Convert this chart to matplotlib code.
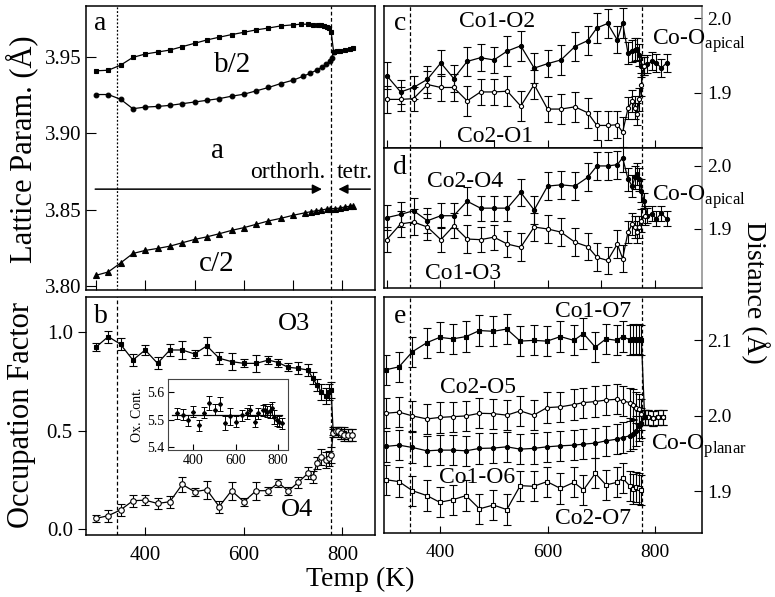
import matplotlib
matplotlib.use('Agg')
import matplotlib.pyplot as plt

plt.rcParams['font.family'] = ['Liberation Serif', 'DejaVu Serif']
plt.rcParams['mathtext.fontset'] = 'custom'
plt.rcParams['mathtext.rm'] = 'Liberation Serif'
plt.rcParams['axes.linewidth'] = 1.1

# ---------------- panel a : lattice parameters ----------------
temp_b2 = [300, 325, 350, 375, 400, 425, 450, 475, 500, 525, 550, 575, 600, 625, 650, 675, 700, 715, 730, 740,
           750, 757, 763, 768, 773, 777, 782, 788, 795, 805, 815, 822]
param_b2 = [3.9408, 3.9412, 3.9445, 3.9496, 3.9518, 3.9531, 3.9544, 3.9566, 3.9588, 3.9610, 3.9628, 3.9645,
            3.9660, 3.9676, 3.9688, 3.9702, 3.9709, 3.9713, 3.9713, 3.9711, 3.9708, 3.9705, 3.9701, 3.9695,
            3.9685, 3.9664, 3.9533, 3.9535, 3.9540, 3.9545, 3.9550, 3.9555]
temp_a = [300, 325, 350, 375, 400, 425, 450, 475, 500, 525, 550, 575, 600, 625, 650, 675, 700, 720, 735, 748,
          758, 767, 774, 779, 782]
param_a = [3.9253, 3.9253, 3.9222, 3.916, 3.9171, 3.9175, 3.9182, 3.9193, 3.9204, 3.9215, 3.9226, 3.9242,
           3.9255, 3.9277, 3.9299, 3.9325, 3.9347, 3.9372, 3.9393, 3.9413, 3.9432, 3.9452, 3.9472, 3.9492,
           3.9533]
temp_c2 = [300, 325, 350, 375, 400, 425, 450, 475, 500, 525, 550, 575, 600, 625, 650, 675, 700, 725, 737, 747,
           757, 768, 775, 785, 795, 805, 815, 822]
param_c2 = [3.807, 3.8092, 3.8151, 3.8213, 3.8233, 3.8246, 3.8261, 3.8283, 3.8305, 3.8322, 3.8342, 3.8364,
            3.8382, 3.8404, 3.8426, 3.8443, 3.8463, 3.848, 3.8487, 3.8493, 3.8497, 3.8504, 3.8507, 3.8507,
            3.851, 3.8518, 3.8522, 3.8526]

# ---------------- panel b : occupation factors ----------------
temp_occ = [300, 325, 350, 375, 400, 425, 450, 475, 500, 525, 550, 575, 600, 625, 650, 670, 690, 710, 730, 740,
            748, 757, 766, 773, 777, 781, 786, 791, 797, 803, 811, 820]
occ_o3 = [0.924, 0.978, 0.939, 0.859, 0.910, 0.842, 0.910, 0.910, 0.890, 0.931, 0.868, 0.851, 0.842, 0.842,
          0.859, 0.846, 0.822, 0.817, 0.808, 0.766, 0.732, 0.698, 0.676, 0.698, 0.707, 0.50, 0.50, 0.49, 0.49,
          0.49, 0.48, 0.48]
err_o3 = [0.02, 0.03, 0.03, 0.03, 0.025, 0.03, 0.03, 0.045, 0.02, 0.045, 0.03, 0.045, 0.02, 0.045, 0.02, 0.02,
          0.02, 0.03, 0.03, 0.03, 0.03, 0.04, 0.04, 0.04, 0.04, 0.02, 0.02, 0.02, 0.03, 0.03, 0.03, 0.03]
occ_o4 = [0.054, 0.068, 0.097, 0.144, 0.147, 0.130, 0.139, 0.227, 0.190, 0.200, 0.114, 0.195, 0.139, 0.195,
          0.195, 0.236, 0.193, 0.237, 0.283, 0.266, 0.334, 0.368, 0.351, 0.359, 0.376, 0.49, 0.50, 0.50, 0.49,
          0.48, 0.48, 0.48]
err_o4 = [0.02, 0.03, 0.03, 0.03, 0.025, 0.03, 0.03, 0.04, 0.02, 0.045, 0.03, 0.045, 0.02, 0.045, 0.02, 0.02,
          0.02, 0.03, 0.03, 0.03, 0.03, 0.04, 0.04, 0.04, 0.04, 0.02, 0.02, 0.02, 0.03, 0.03, 0.03, 0.03]

# inset : oxygen content
temp_ox = [321, 349, 373, 400, 428, 450, 476, 500, 526, 550, 574, 602, 629, 653, 669, 692, 708, 729, 740, 751,
           763, 771, 782, 795, 808, 819]
ox_cont = [5.522, 5.518, 5.498, 5.528, 5.480, 5.524, 5.560, 5.536, 5.557, 5.488, 5.512, 5.492, 5.516, 5.522,
           5.534, 5.492, 5.522, 5.534, 5.536, 5.528, 5.530, 5.540, 5.510, 5.498, 5.492, 5.486]
err_ox = [0.02, 0.02, 0.02, 0.02, 0.02, 0.02, 0.025, 0.02, 0.025, 0.025, 0.03, 0.02, 0.02, 0.02, 0.02, 0.02,
          0.02, 0.02, 0.02, 0.02, 0.025, 0.025, 0.025, 0.02, 0.02, 0.02]
ox_mean = 5.518

# ---------------- panel c, d : apical distances ----------------
temp_ap = [300, 326, 350, 376, 401, 425, 450, 475, 500, 525, 550, 575, 600, 625, 651, 675, 692, 712, 730, 740,
           750, 758, 763, 767, 771, 775]
temp_ap_tetr = [780, 786, 794, 803, 812, 822]
co1_o2 = [1.923, 1.901, 1.907, 1.918, 1.940, 1.919, 1.942, 1.947, 1.944, 1.956, 1.963, 1.933, 1.939, 1.944,
          1.962, 1.970, 1.987, 1.993, 1.971, 1.994, 1.953, 1.956, 1.958, 1.959, 1.951, 1.936]
co1_o2_tetr = [1.936, 1.938, 1.942, 1.940, 1.933, 1.940]
co2_o1 = [1.891, 1.891, 1.892, 1.911, 1.907, 1.907, 1.889, 1.901, 1.901, 1.902, 1.882, 1.911, 1.878, 1.878,
          1.881, 1.873, 1.856, 1.856, 1.857, 1.847, 1.879, 1.889, 1.880, 1.871, 1.891, 1.911]
co2_o4 = [1.918, 1.923, 1.929, 1.913, 1.921, 1.921, 1.944, 1.933, 1.933, 1.933, 1.958, 1.930, 1.968, 1.970,
          1.968, 1.982, 2.000, 2.000, 2.002, 2.013, 1.979, 1.968, 1.982, 1.987, 1.979, 1.961]
co2_o4_tetr = [1.945, 1.921, 1.924, 1.916, 1.925, 1.916]
co1_o3 = [1.883, 1.908, 1.911, 1.903, 1.883, 1.905, 1.884, 1.883, 1.887, 1.876, 1.871, 1.903, 1.900, 1.895,
          1.879, 1.872, 1.855, 1.850, 1.876, 1.853, 1.895, 1.908, 1.903, 1.895, 1.903, 1.913]
err_c = [0.018, 0.016, 0.016, 0.018, 0.018, 0.018, 0.02, 0.018, 0.018, 0.02, 0.02, 0.02, 0.018, 0.02, 0.02,
         0.02, 0.02, 0.02, 0.018, 0.02, 0.015, 0.015, 0.015, 0.015, 0.015, 0.015]
err_c_tetr = [0.012, 0.012, 0.012, 0.012, 0.012, 0.012]
err_d = [0.02, 0.02, 0.02, 0.02, 0.02, 0.02, 0.022, 0.02, 0.02, 0.02, 0.022, 0.022, 0.022, 0.022, 0.022, 0.022,
         0.022, 0.022, 0.022, 0.022, 0.018, 0.018, 0.018, 0.018, 0.018, 0.018]

# ---------------- panel e : planar distances ----------------
temp_pl = [298, 323, 348, 375, 399, 423, 448, 473, 499, 524, 549, 574, 599, 624, 649, 667, 689, 709, 729, 740,
           753, 759, 765, 770, 775]
temp_pl_tetr = [781, 787, 797, 806, 816]
co1_o7 = [2.061, 2.065, 2.085, 2.097, 2.104, 2.102, 2.105, 2.113, 2.112, 2.115, 2.099, 2.100, 2.099, 2.105,
          2.100, 2.109, 2.091, 2.102, 2.100, 2.105, 2.101, 2.102, 2.101, 2.102, 2.101]
co2_o5 = [2.0035, 2.005, 2.000, 1.996, 1.998, 1.999, 2.000, 2.0035, 2.003, 2.001, 2.0066, 2.001, 2.011, 2.012,
          2.015, 2.0176, 2.019, 2.021, 2.022, 2.020, 2.0176, 2.015, 2.011, 2.0088, 2.002]
co1_o6 = [1.9596, 1.9613, 1.9582, 1.9538, 1.9547, 1.9547, 1.9538, 1.957, 1.9574, 1.9591, 1.956, 1.957, 1.9591,
          1.9604, 1.9613, 1.9626, 1.964, 1.967, 1.9692, 1.9714, 1.9736, 1.9758, 1.980, 1.9868, 1.991]
co2_o7 = [1.9156, 1.913, 1.901, 1.8945, 1.8857, 1.889, 1.8945, 1.877, 1.882, 1.876, 1.9077, 1.9068, 1.913, 1.904,
          1.912, 1.902, 1.924, 1.9086, 1.912, 1.9174, 1.9077, 1.903, 1.9055, 1.904, 1.902]
planar_tetr = [1.998, 1.998, 1.997, 1.998, 1.998]
err_e = [0.02, 0.02, 0.02, 0.02, 0.02, 0.02, 0.02, 0.02, 0.02, 0.02, 0.02, 0.02, 0.02, 0.02, 0.02, 0.02, 0.02,
         0.02, 0.02, 0.02, 0.02, 0.02, 0.02, 0.02, 0.02]
err_e_tetr = [0.01, 0.01, 0.01, 0.01, 0.01]

T_LOW = 343
T_HIGH = 776


def serie(ax, x, y, err, marker, lleno=True, ms=3.2):
    cara = 'k' if lleno else 'white'
    if err is None:
        ax.plot(x, y, '-' + marker, color='k', mfc=cara, mec='k', ms=ms, lw=0.9, mew=0.8)
    else:
        ax.errorbar(x, y, yerr=err, fmt='-' + marker, color='k', mfc=cara, mec='k', ms=ms, lw=0.9, mew=0.8,
                    elinewidth=0.8, capsize=3, capthick=0.8)


def lineas(ax, estilo_izq=(0, (3, 2))):
    ax.axvline(T_LOW, ls=estilo_izq, color='k', lw=0.9)
    ax.axvline(T_HIGH, ls=(0, (3, 2)), color='k', lw=0.9)


fig = plt.figure(figsize=(7.75, 5.97), dpi=100)
ax_a = fig.add_axes([0.1110, 0.5142, 0.3729, 0.4757])
ax_b = fig.add_axes([0.1110, 0.1039, 0.3729, 0.3982])
ax_c = fig.add_axes([0.4955, 0.7516, 0.4103, 0.2384])
ax_d = fig.add_axes([0.4955, 0.5176, 0.4103, 0.2340])
ax_e = fig.add_axes([0.4955, 0.1072, 0.4103, 0.3948])

# panel a
serie(ax_a, temp_b2, param_b2, None, 's', ms=3.4)
serie(ax_a, temp_a, param_a, None, 'o', ms=3.4)
serie(ax_a, temp_c2, param_c2, None, '^', ms=3.7)
lineas(ax_a, (0, (1.5, 1.5)))
ax_a.annotate('', xy=(764, 3.8634), xytext=(293, 3.8634),
              arrowprops=dict(arrowstyle='-|>', color='k', lw=1.1, mutation_scale=14))
ax_a.annotate('', xy=(786, 3.8634), xytext=(862, 3.8634),
              arrowprops=dict(arrowstyle='-|>', color='k', lw=1.1, mutation_scale=14))
ax_a.text(0.05, 0.94, 'a', transform=ax_a.transAxes, fontsize=20, ha='center', va='center')
ax_a.text(578, 3.9445, 'b/2', fontsize=21, ha='center', va='center')
ax_a.text(547, 3.8886, 'a', fontsize=21, ha='center', va='center')
ax_a.text(545, 3.8143, 'c/2', fontsize=21, ha='center', va='center')
ax_a.text(765, 3.874, 'orthorh.', fontsize=17, ha='right', va='center')
ax_a.text(862, 3.874, 'tetr.', fontsize=17, ha='right', va='center')
ax_a.set_xlim(280, 866)
ax_a.set_ylim(3.7974, 3.9832)
ax_a.set_yticks([3.80, 3.85, 3.90, 3.95])
ax_a.set_yticklabels(['3.80', '3.85', '3.90', '3.95'])
ax_a.set_xticks([300, 400, 500, 600, 700, 800])
ax_a.tick_params(axis='x', direction='in', length=7, labelbottom=False)
ax_a.tick_params(axis='y', direction='in', length=7, labelsize=15)

# panel b
serie(ax_b, temp_occ, occ_o3, err_o3, 's', ms=3.2)
serie(ax_b, temp_occ, occ_o4, err_o4, 'o', lleno=False, ms=4)
lineas(ax_b)
ax_b.text(0.05, 0.92, 'b', transform=ax_b.transAxes, fontsize=20, ha='center', va='center')
ax_b.text(702, 1.044, 'O3', fontsize=19, ha='center', va='center')
ax_b.text(708, 0.0965, 'O4', fontsize=19, ha='center', va='center')
ax_b.set_xlim(280, 866)
ax_b.set_ylim(-0.03, 1.178)
ax_b.set_yticks([0.0, 0.5, 1.0])
ax_b.set_xticks([400, 600, 800])
ax_b.tick_params(axis='x', direction='in', length=6, labelsize=15, pad=8)
ax_b.tick_params(axis='y', direction='out', length=6, labelsize=15)

# inset
ax_in = fig.add_axes([0.2172, 0.2462, 0.1548, 0.1184])
ax_in.errorbar(temp_ox, ox_cont, yerr=err_ox, fmt='D', color='k', ms=2, elinewidth=0.7, capsize=2, capthick=0.7)
ax_in.plot([300, 820], [ox_mean, ox_mean], color='k', lw=0.9)
ax_in.set_xlim(281, 850)
ax_in.set_ylim(5.39, 5.645)
ax_in.set_yticks([5.4, 5.5, 5.6])
ax_in.set_xticks([400, 600, 800])
ax_in.tick_params(direction='in', length=4, labelsize=10, pad=3)
ax_in.set_ylabel('Ox. Cont.', fontsize=10, labelpad=2)
for s in ax_in.spines.values():
    s.set_linewidth(0.8)
    s.set_color('#444444')

# panel c
serie(ax_c, temp_ap + temp_ap_tetr, co1_o2 + co1_o2_tetr, err_c + err_c_tetr, 'o', ms=3)
serie(ax_c, temp_ap + [temp_ap_tetr[0]], co2_o1 + [co1_o2_tetr[0]], err_c + [err_c_tetr[0]], 'o', lleno=False, ms=3)
lineas(ax_c)
ax_c.text(0.05, 0.88, 'c', transform=ax_c.transAxes, fontsize=20, ha='center', va='center')
ax_c.text(505, 1.9954, 'Co1-O2', fontsize=17, ha='center', va='center')
ax_c.text(502, 1.841, 'Co2-O1', fontsize=17, ha='center', va='center')
ax_c.text(794, 1.9686, 'Co-O$_{\\mathrm{apical}}$', fontsize=17, ha='left', va='center')
ax_c.set_xlim(295, 888)
ax_c.set_ylim(1.8253, 2.0165)
ax_c.set_yticks([1.9, 2.0])

# panel d
serie(ax_d, temp_ap + temp_ap_tetr, co2_o4 + co2_o4_tetr, err_d + err_c_tetr, 'o', ms=3)
serie(ax_d, temp_ap + [781], co1_o3 + [1.921], err_d + [0.015], 'o', lleno=False, ms=3)
lineas(ax_d)
ax_d.text(0.05, 0.86, 'd', transform=ax_d.transAxes, fontsize=20, ha='center', va='center')
ax_d.text(446, 1.975, 'Co2-O4', fontsize=17, ha='center', va='center')
ax_d.text(443, 1.8297, 'Co1-O3', fontsize=17, ha='center', va='center')
ax_d.text(794, 1.951, 'Co-O$_{\\mathrm{apical}}$', fontsize=17, ha='left', va='center')
ax_d.set_xlim(295, 888)
ax_d.set_ylim(1.8063, 2.028)
ax_d.set_yticks([1.9, 2.0])

for ax in (ax_c, ax_d):
    ax.set_xticks([300, 400, 500, 600, 700, 800])
    ax.tick_params(axis='x', direction='in', length=6, labelbottom=False)
    ax.yaxis.tick_right()
    ax.tick_params(axis='y', direction='in', length=6, labelsize=14)
    ax.spines['right'].set_color('#8a8a8a')

# panel e
serie(ax_e, temp_pl + temp_pl_tetr, co1_o7 + planar_tetr, err_e + err_e_tetr, 's', ms=3)
serie(ax_e, temp_pl + temp_pl_tetr, co2_o5 + planar_tetr, err_e + err_e_tetr, 'o', lleno=False, ms=3)
serie(ax_e, temp_pl + [temp_pl_tetr[0]], co1_o6 + [planar_tetr[0]], err_e + [err_e_tetr[0]], 'o', ms=3)
serie(ax_e, temp_pl, co2_o7, err_e, 's', lleno=False, ms=3)
lineas(ax_e)
ax_e.text(0.05, 0.92, 'e', transform=ax_e.transAxes, fontsize=20, ha='center', va='center')
ax_e.text(685, 2.1385, 'Co1-O7', fontsize=17, ha='center', va='center')
ax_e.text(471, 2.0375, 'Co2-O5', fontsize=17, ha='center', va='center')
ax_e.text(468, 1.9187, 'Co1-O6', fontsize=17, ha='center', va='center')
ax_e.text(685, 1.8637, 'Co2-O7', fontsize=17, ha='center', va='center')
ax_e.text(793, 1.9604, 'Co-O$_{\\mathrm{planar}}$', fontsize=17, ha='left', va='center')
ax_e.set_xlim(295, 888)
ax_e.set_ylim(1.845, 2.157)
ax_e.set_yticks([1.9, 2.0, 2.1])
ax_e.set_xticks([400, 600, 800])
ax_e.yaxis.tick_right()
ax_e.tick_params(axis='y', direction='in', length=6, labelsize=14)
ax_e.tick_params(axis='x', direction='in', length=5, labelsize=14, pad=8)

fig.text(0.028, 0.75, 'Lattice Param. (Å)', rotation=90, fontsize=22, ha='center', va='center')
fig.text(0.028, 0.305, 'Occupation Factor', rotation=90, fontsize=22, ha='center', va='center')
fig.text(0.4645, 0.030, 'Temp (K)', fontsize=20, ha='center', va='center')
fig.text(0.974, 0.511, 'Distance (Å)', rotation=270, fontsize=20, ha='center', va='center')

fig.savefig('out.png', dpi=100)
